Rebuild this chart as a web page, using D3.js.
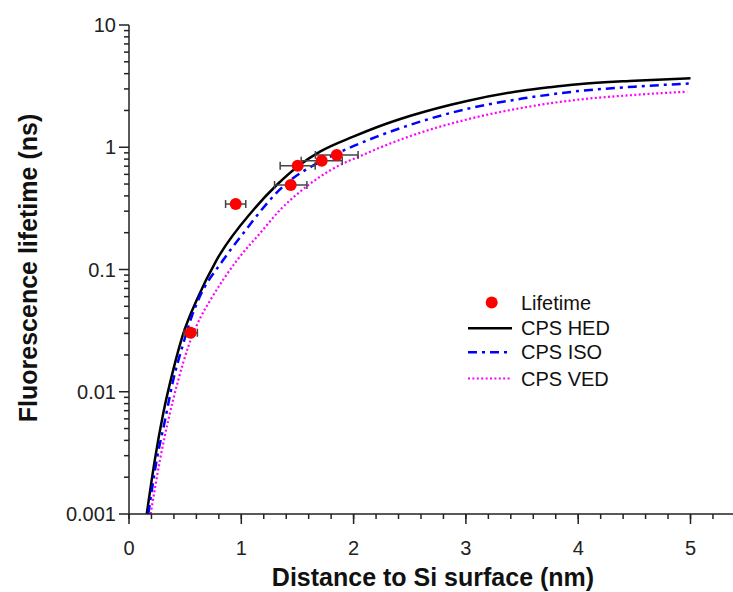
<!DOCTYPE html>
<html>
<head>
<meta charset="utf-8">
<script src="https://cdn.jsdelivr.net/npm/d3@7"></script>
<style>
  body { margin: 0; background: #fff; }
  svg { display: block; font-family: "Liberation Sans", Arial, sans-serif; }
</style>
</head>
<body>
<script>
// 测量点：距离 (nm)，寿命 (ns)，距离误差
var pointDist = [0.549, 0.95, 1.44, 1.502, 1.716, 1.85];
var pointTau = [0.0304, 0.343, 0.491, 0.707, 0.776, 0.865];
var pointErr = [0.06, 0.09, 0.144, 0.156, 0.183, 0.19];

// 三条 CPS 模型曲线（从图上读出的点）
var distHED = [0.158, 0.23, 0.305, 0.394, 0.484, 0.603, 0.781, 1.107, 1.315, 1.523, 1.701, 1.997, 2.2, 2.5, 3.0, 3.5, 3.75, 4.0, 4.5, 5.0];
var tauHED = [0.001, 0.00277, 0.00667, 0.0151, 0.030, 0.0563, 0.12, 0.307, 0.491, 0.72, 0.92, 1.22, 1.45, 1.8, 2.38, 2.9, 3.1, 3.28, 3.5, 3.67];
var distISO = [0.172, 0.247, 0.321, 0.394, 0.484, 0.558, 0.617, 0.84, 1.018, 1.196, 1.315, 1.463, 1.641, 1.819, 1.997, 2.206, 2.5, 3.0, 3.5, 3.75, 4.0, 4.5, 5.0];
var tauISO = [0.001, 0.00277, 0.00587, 0.01247, 0.0249, 0.0411, 0.0563, 0.12, 0.198, 0.32, 0.425, 0.56, 0.71, 0.86, 1.02, 1.22, 1.52, 2.05, 2.5, 2.7, 2.88, 3.13, 3.33];
var distVED = [0.193, 0.276, 0.35, 0.439, 0.528, 0.64, 0.725, 0.965, 1.167, 1.345, 1.523, 1.701, 1.879, 2.057, 2.22, 2.5, 3.0, 3.5, 3.75, 4.0, 4.5, 4.97];
var tauVED = [0.001, 0.00277, 0.00587, 0.01247, 0.0234, 0.0411, 0.0563, 0.12, 0.198, 0.307, 0.433, 0.574, 0.716, 0.845, 0.98, 1.23, 1.68, 2.1, 2.29, 2.45, 2.68, 2.85];

var xTicks = [0, 1, 2, 3, 4, 5];
var yTicks = [0.001, 0.01, 0.1, 1, 10];
var legendNames = ["Lifetime", "CPS HED", "CPS ISO", "CPS VED"];

var width = 733, height = 592;
var svg = d3.select("body").append("svg").attr("width", width).attr("height", height);

// 比例尺
var x = d3.scaleLinear().domain([0, 5.4]).range([129, 129 + 5.4 * 112.3]);
var y = d3.scaleLog().domain([0.001, 10]).range([514, 25]);

var axisColor = "#222";

// 曲线
var curves = [
    { d: distHED, t: tauHED, color: "#000", dash: null, w: 2.5 },
    { d: distISO, t: tauISO, color: "#0000ff", dash: "9,5,3,5", w: 2.5 },
    { d: distVED, t: tauVED, color: "#ff00ff", dash: "2,2.4", w: 2.2 }
];
var line = d3.line()
    .x(function (p) { return x(p[0]); })
    .y(function (p) { return y(p[1]); })
    .curve(d3.curveMonotoneX);
curves.forEach(function (c) {
    var pts = c.d.map(function (v, i) { return [v, c.t[i]]; });
    svg.append("path")
        .attr("d", line(pts))
        .attr("fill", "none")
        .attr("stroke", c.color)
        .attr("stroke-width", c.w)
        .attr("stroke-dasharray", c.dash);
});

// 误差棒
var errG = svg.append("g").attr("stroke", "#444").attr("stroke-width", 1.5);
pointDist.forEach(function (d, i) {
    var cy = y(pointTau[i]);
    var x0 = x(d - pointErr[i]), x1 = x(d + pointErr[i]);
    errG.append("line").attr("x1", x0).attr("x2", x1).attr("y1", cy).attr("y2", cy);
    errG.append("line").attr("x1", x0).attr("x2", x0).attr("y1", cy - 4).attr("y2", cy + 4);
    errG.append("line").attr("x1", x1).attr("x2", x1).attr("y1", cy - 4).attr("y2", cy + 4);
});
svg.append("g").selectAll("circle")
    .data(pointDist)
    .enter().append("circle")
    .attr("cx", function (d) { return x(d); })
    .attr("cy", function (d, i) { return y(pointTau[i]); })
    .attr("r", 6)
    .attr("fill", "#ff0000");

// x 轴
var gx = svg.append("g").attr("transform", "translate(0,514)");
gx.append("line").attr("x1", 129).attr("x2", width).attr("stroke", axisColor).attr("stroke-width", 1.5);
var xMinor = d3.range(0, 5.41, 0.2);
gx.selectAll(".xminor").data(xMinor).enter().append("line")
    .attr("x1", function (d) { return x(d); }).attr("x2", function (d) { return x(d); })
    .attr("y1", 0).attr("y2", 5)
    .attr("stroke", axisColor).attr("stroke-width", 1.5);
gx.selectAll(".xmajor").data(xTicks).enter().append("line")
    .attr("x1", function (d) { return x(d); }).attr("x2", function (d) { return x(d); })
    .attr("y1", 0).attr("y2", 10)
    .attr("stroke", axisColor).attr("stroke-width", 1.5);
gx.selectAll("text").data(xTicks).enter().append("text")
    .attr("x", function (d) { return x(d); })
    .attr("y", 41)
    .attr("text-anchor", "middle")
    .attr("font-size", 20)
    .attr("fill", axisColor)
    .text(function (d) { return d; });

// y 轴
var gy = svg.append("g").attr("transform", "translate(129,0)");
gy.append("line").attr("y1", 25).attr("y2", 514).attr("stroke", axisColor).attr("stroke-width", 1.5);
var yMinor = [];
for (var e = -3; e < 1; e++) {
    for (var k = 2; k <= 9; k++) yMinor.push(k * Math.pow(10, e));
}
gy.selectAll(".yminor").data(yMinor).enter().append("line")
    .attr("y1", function (d) { return y(d); }).attr("y2", function (d) { return y(d); })
    .attr("x1", 0).attr("x2", -5)
    .attr("stroke", axisColor).attr("stroke-width", 1.5);
gy.selectAll(".ymajor").data(yTicks).enter().append("line")
    .attr("y1", function (d) { return y(d); }).attr("y2", function (d) { return y(d); })
    .attr("x1", 0).attr("x2", -10)
    .attr("stroke", axisColor).attr("stroke-width", 1.5);
gy.selectAll("text").data(yTicks).enter().append("text")
    .attr("x", -13)
    .attr("y", function (d) { return y(d) + 7; })
    .attr("text-anchor", "end")
    .attr("font-size", 20)
    .attr("fill", axisColor)
    .text(function (d) { return String(d); });

// 坐标轴标题
svg.append("text")
    .attr("x", 433).attr("y", 586)
    .attr("text-anchor", "middle")
    .attr("font-size", 25).attr("font-weight", "bold")
    .attr("fill", "#111")
    .text("Distance to Si surface (nm)");
svg.append("text")
    .attr("transform", "translate(37,268) rotate(-90)")
    .attr("text-anchor", "middle")
    .attr("font-size", 25).attr("font-weight", "bold")
    .attr("fill", "#111")
    .text("Fluorescence lifetime (ns)");

// 图例
var lg = svg.append("g");
var rowY = [302.5, 328.3, 352.3, 378.5];
lg.append("circle").attr("cx", 491.7).attr("cy", rowY[0]).attr("r", 6).attr("fill", "#ff0000");
curves.forEach(function (c, i) {
    lg.append("line")
        .attr("x1", 468).attr("x2", 512)
        .attr("y1", rowY[i + 1]).attr("y2", rowY[i + 1])
        .attr("stroke", c.color)
        .attr("stroke-width", c.w)
        .attr("stroke-dasharray", c.dash);
});
legendNames.forEach(function (name, i) {
    lg.append("text")
        .attr("x", 521).attr("y", rowY[i] + 7)
        .attr("font-size", 20)
        .attr("fill", "#111")
        .text(name);
});
</script>
</body>
</html>
